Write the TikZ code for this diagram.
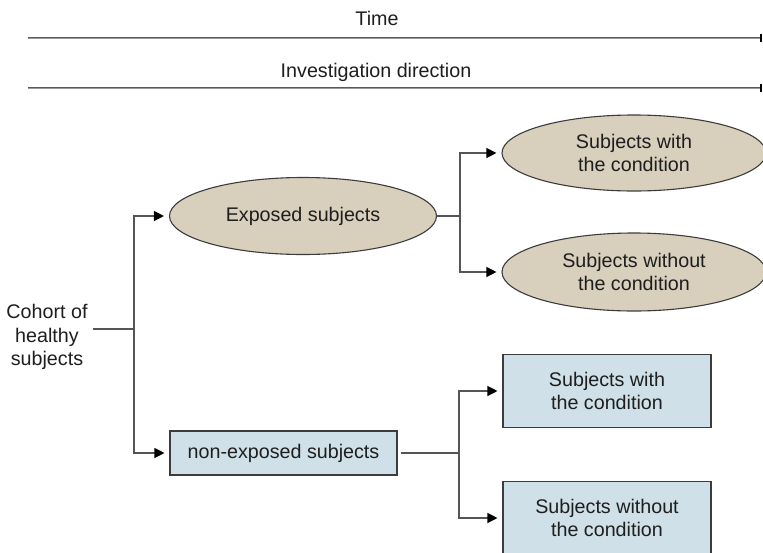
\documentclass[tikz,border=0pt]{standalone}
\usepackage{fontspec}
\setmainfont{Liberation Sans}
\usetikzlibrary{shapes.geometric,arrows.meta}
\definecolor{tan}{RGB}{216,207,189}
\definecolor{lblue}{RGB}{207,224,232}
\definecolor{edge}{RGB}{60,60,60}
\definecolor{conn}{RGB}{85,85,85}
\definecolor{txt}{RGB}{30,30,30}
\tikzset{
  lbl/.style={font=\fontsize{19.7}{23.5}\selectfont, text=txt, align=center, inner sep=4pt},
  oval/.style={lbl, ellipse, draw=edge, line width=1.1pt, fill=tan, inner sep=0pt},
  rbox/.style={lbl, rectangle, draw=edge, line width=1.1pt, fill=lblue, inner sep=0pt},
  conline/.style={draw=conn, line width=1.2pt},
  arr/.style={conline, -{Triangle[length=10pt,width=10pt,color=black,fill=black]}, shorten >=5pt},
  timeline/.style={draw=gray!70!black, double=gray!80, double distance=1.0pt, line width=0.6pt, -{Bar[width=8pt,line width=1.8pt,color=black]}}
}
\begin{document}
\begin{tikzpicture}[x=1pt,y=-1pt]
\useasboundingbox (0,0) rectangle (763,552);
\fill[white] (0,0) rectangle (763,552);

\node[lbl] (time) at (377,18) {Time};
\coordinate (t1) at (28,38);
\coordinate (t2) at (762,38);
\draw[timeline] (t1) -- (t2);
\node[lbl] (inv) at (376,72) {Investigation direction};
\coordinate (i1) at (28,88);
\coordinate (i2) at (762,88);
\draw[timeline] (i1) -- (i2);

\node[oval, minimum width=267pt, minimum height=77pt] (exp) at (303,216) {Exposed subjects};
\node[oval, minimum width=264pt, minimum height=76pt] (ew) at (634,153) {Subjects with\\the condition};
\node[oval, minimum width=264pt, minimum height=78pt] (ewo) at (634,272) {Subjects without\\the condition};

\node[lbl] (cohort) at (47,337) {Cohort of\\healthy\\subjects};

\node[rbox, minimum width=227pt, minimum height=44pt] (nonexp) at (283.5,453) {non-exposed subjects};
\node[rbox, minimum width=208pt, minimum height=73pt] (bw) at (607,391) {Subjects with\\the condition};
\node[rbox, minimum width=208pt, minimum height=73pt] (bwo) at (607,518) {Subjects without\\the condition};

\coordinate (j1) at (134,329);
\coordinate (j2) at (460,216);
\coordinate (j3) at (459,453);

\draw[conline] (93,329) -- (j1);
\draw[arr] (j1) |- (exp.west);
\draw[arr] (j1) |- (nonexp.west);
\draw[conline] (exp.east) -- (j2);
\draw[arr] (j2) |- (ew.west);
\draw[arr] (j2) |- (ewo.west);
\draw[conline] ([xshift=3pt]nonexp.east) -- (j3);
\draw[arr] (j3) |- (bw.west);
\draw[arr] (j3) |- (bwo.west);
\end{tikzpicture}
\end{document}
